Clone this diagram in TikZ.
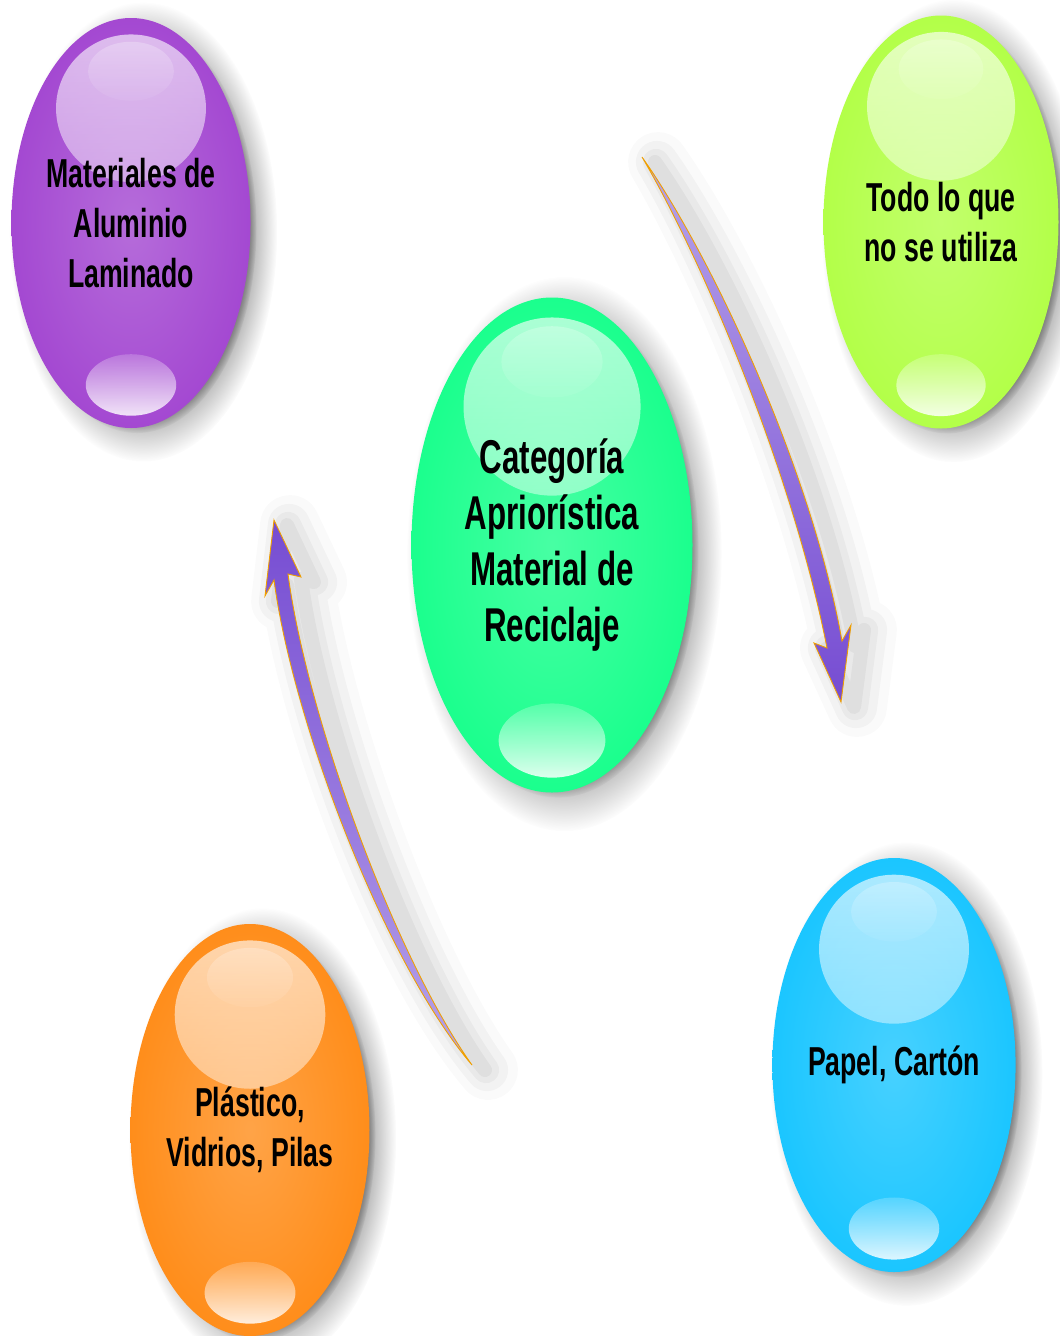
\documentclass[tikz,border=0pt]{standalone}
\usepackage{fontspec}
\setmainfont{Liberation Sans}[FakeStretch=0.66]
\usepackage{tikz}
\usetikzlibrary{shapes.geometric,shadows,fadings,calc}
\definecolor{clrP}{RGB}{153,51,204}
\definecolor{clrV}{RGB}{0,255,128}
\definecolor{clrL}{RGB}{170,255,51}
\definecolor{clrA}{RGB}{0,191,255}
\definecolor{clrN}{RGB}{255,128,0}
\definecolor{clrF}{RGB}{118,76,210}
\definecolor{clrFl}{RGB}{182,162,234}
\definecolor{clrBorde}{RGB}{240,160,0}
\makeatletter
\pgfdeclareradialshading[tikz@radial@inner,tikz@radial@outer]{glow}{\pgfpoint{0bp}{0bp}}{%
  color(0bp)=(tikz@radial@inner); color(40bp)=(tikz@radial@outer); color(50bp)=(tikz@radial@outer)}
\makeatother
\tikzfading[name=brillosup,top color=transparent!35,bottom color=transparent!88]
\tikzfading[name=brilloinf,top color=transparent!80,bottom color=transparent!15]
\newcommand{\brillo}[2]{%
  \fill[white,path fading=brillosup]
    ($(path picture bounding box.north)!0.22!(path picture bounding box.south)$)
    ellipse [x radius=0.315*#1cm,y radius=0.18*#2cm];
  \fill[white,fill opacity=0.4,path fading=brillosup]
    ($(path picture bounding box.north)!0.13!(path picture bounding box.south)$)
    ellipse [x radius=0.18*#1cm,y radius=0.072*#2cm];
  \fill[white,path fading=brilloinf]
    ($(path picture bounding box.north)!0.895!(path picture bounding box.south)$)
    ellipse [x radius=0.19*#1cm,y radius=0.075*#2cm];}
\tikzset{
  burbuja/.style n args={3}{ellipse,inner color=#1!72!white,outer color=#1,shading=glow,
    minimum width=#2cm,minimum height=#3cm,inner sep=0pt,align=center,
    font=\fontsize{23}{28.5}\selectfont\bfseries,
    general shadow={shadow xshift=0.22cm,shadow yshift=-0.16cm,shadow scale=1.12,
      fill=black,opacity=0.3,path fading={circle with fuzzy edge 20 percent}},
    general shadow={shadow xshift=0.12cm,shadow yshift=-0.1cm,shadow scale=1.0,
      fill=black!80,opacity=0.6,path fading={circle with fuzzy edge 10 percent}},
    path picture={\brillo{#2}{#3}}},
  flecha/.style={draw=clrBorde,line width=0.5pt,line join=miter},
  flechasombra/.style={
    preaction={draw=black,draw opacity=0.02,line width=34pt,
      line join=round,transform canvas={shift={(0.32,-0.1)}}},
    preaction={draw=black,draw opacity=0.03,line width=24pt,
      line join=round,transform canvas={shift={(0.3,-0.1)}}},
    preaction={draw=black,draw opacity=0.035,line width=15pt,
      line join=round,transform canvas={shift={(0.28,-0.1)}}},
    preaction={draw=black,draw opacity=0.04,line width=8pt,
      line join=round,transform canvas={shift={(0.26,-0.1)}}}}
}
\begin{document}
\begin{tikzpicture}
  \path[use as bounding box,fill=white] (0,0) rectangle (21.2,-26.72);

  \node[burbuja={clrP}{4.76}{8.2}] (alu) at (2.62,-4.46)
    {Materiales de\\Aluminio\\Laminado};
  \node[burbuja={clrV}{5.62}{9.9},font=\fontsize{27}{31.7}\selectfont\bfseries]
    (cat) at (11.04,-10.9)
    {Categoría\\Apriorística\\Material de\\Reciclaje};
  \node[burbuja={clrL}{4.7}{8.26}] (todo) at (18.82,-4.44)
    {Todo lo que\\no se utiliza};
  \node[burbuja={clrA}{4.76}{8.28}] (papel) at (17.88,-21.3)
    {Papel, Cartón};
  \node[burbuja={clrN}{4.78}{8.24}] (plast) at (5.0,-22.6)
    {Plástico,\\Vidrios, Pilas};

  \coordinate (f1cola) at (12.84,-3.14);
  \coordinate (f1izq) at (16.54,-12.96);
  \coordinate (f1der) at (16.84,-12.82);
  \coordinate (f1punta) at (16.82,-14.04);
  \draw[flecha,flechasombra,top color=clrFl,bottom color=clrF]
    (f1cola) .. controls (14.04,-5.18) and (15.86,-9.46) .. (f1izq)
    -- (16.28,-12.86) -- (f1punta) -- (17.02,-12.5) -- (f1der)
    .. controls (16.22,-9.34) and (14.2,-5.06) .. (f1cola) -- cycle;

  \coordinate (f2cola) at (9.44,-21.3);
  \coordinate (f2izq) at (5.48,-11.6);
  \coordinate (f2der) at (5.76,-11.48);
  \coordinate (f2punta) at (5.48,-10.4);
  \draw[flecha,flechasombra,top color=clrF,bottom color=clrFl]
    (f2cola) .. controls (7.7,-19.26) and (5.86,-14.46) .. (f2izq)
    -- (5.3,-11.92) -- (f2punta) -- (6.02,-11.54) -- (f2der)
    .. controls (6.14,-14.34) and (7.9,-19.14) .. (f2cola) -- cycle;
\end{tikzpicture}
\end{document}
